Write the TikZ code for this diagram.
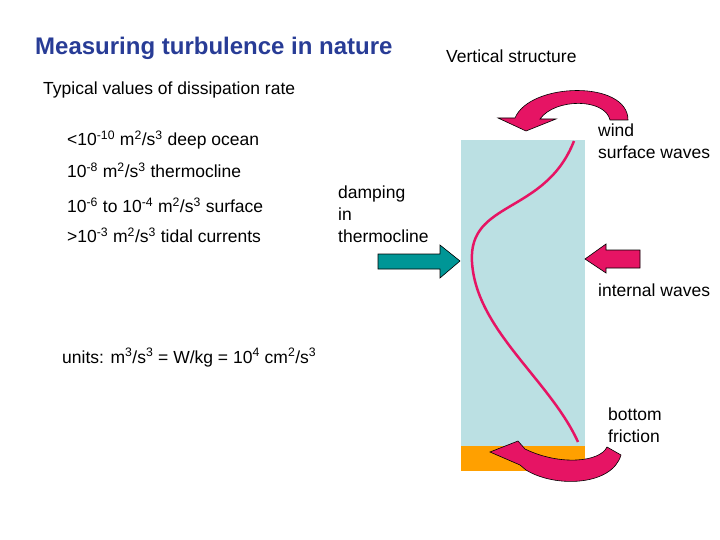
\documentclass[tikz,border=0pt]{standalone}
\usepackage{fontspec}
\setmainfont{Liberation Sans}
\definecolor{ttl}{RGB}{40,60,150}
\definecolor{water}{RGB}{187,224,227}
\definecolor{bot}{RGB}{255,160,0}
\definecolor{pk}{RGB}{230,20,100}
\definecolor{tl}{RGB}{0,150,150}
\begin{document}
\begin{tikzpicture}[x=1pt,y=-1pt,
  txt/.style={anchor=base west,inner sep=0,font=\fontsize{17.5}{21}\selectfont},
  blk/.style={draw=black,line width=0.6pt}]
\useasboundingbox (0,0) rectangle (720,540);
\fill[water] (461,140) rectangle (585,446);
\fill[bot] (461,446) rectangle (585,471);
\coordinate (s) at (574,141);
\coordinate (m) at (472,262);
\coordinate (e) at (578,442);
\draw[pk,line width=2.5pt] (s) .. controls (545,215) and (468,200) .. (m) .. controls (476,330) and (550,380) .. (e);
\fill[pk,blk] (628,120) .. controls (628,80) and (530,82) .. (515,118) -- (498,118) -- (526,131) -- (556,119) -- (540,119)
  .. controls (555,98) and (605,98) .. (610,120) -- cycle;
\fill[pk,blk] (490,452) -- (518,441) -- (525,449) .. controls (560,466) and (600,462) .. (607,447) -- (621,455)
  .. controls (612,486) and (555,488) .. (526,470) -- (520,465) -- cycle;
\fill[tl,blk] (378,254) -- (440,254) -- (440,245) -- (460,261) -- (440,278) -- (440,269) -- (378,269) -- cycle;
\fill[pk,blk] (640,250) -- (606,250) -- (606,244) -- (585,259) -- (606,273) -- (606,268) -- (640,268) -- cycle;
\node[txt,font=\fontsize{24}{27}\selectfont\bfseries,text=ttl] (t) at (35,55) {Measuring turbulence in nature};
\node[txt] (vs) at (446,63) {Vertical structure};
\node[txt] (ty) at (43,95) {Typical values of dissipation rate};
\node[txt] (l1) at (67,146) {<10\textsuperscript{-10} m\textsuperscript{2}/s\textsuperscript{3} deep ocean};
\node[txt] (l2) at (67,178) {10\textsuperscript{-8} m\textsuperscript{2}/s\textsuperscript{3} thermocline};
\node[txt] (l3) at (67,213) {10\textsuperscript{-6} to 10\textsuperscript{-4} m\textsuperscript{2}/s\textsuperscript{3} surface};
\node[txt] (l4) at (67,243) {>10\textsuperscript{-3} m\textsuperscript{2}/s\textsuperscript{3} tidal currents};
\node[txt] (u) at (62,363) {units: m\textsuperscript{3}/s\textsuperscript{3} = W/kg = 10\textsuperscript{4} cm\textsuperscript{2}/s\textsuperscript{3}};
\node[txt] (d1) at (338,199) {damping};
\node[txt] (d2) at (338,221) {in};
\node[txt] (d3) at (338,243) {thermocline};
\node[txt] (w1) at (598,137) {wind};
\node[txt] (w2) at (598,159) {surface waves};
\node[txt] (iw) at (598,296) {internal waves};
\node[txt] (b1) at (608,420) {bottom};
\node[txt] (b2) at (608,442) {friction};
\end{tikzpicture}
\end{document}
